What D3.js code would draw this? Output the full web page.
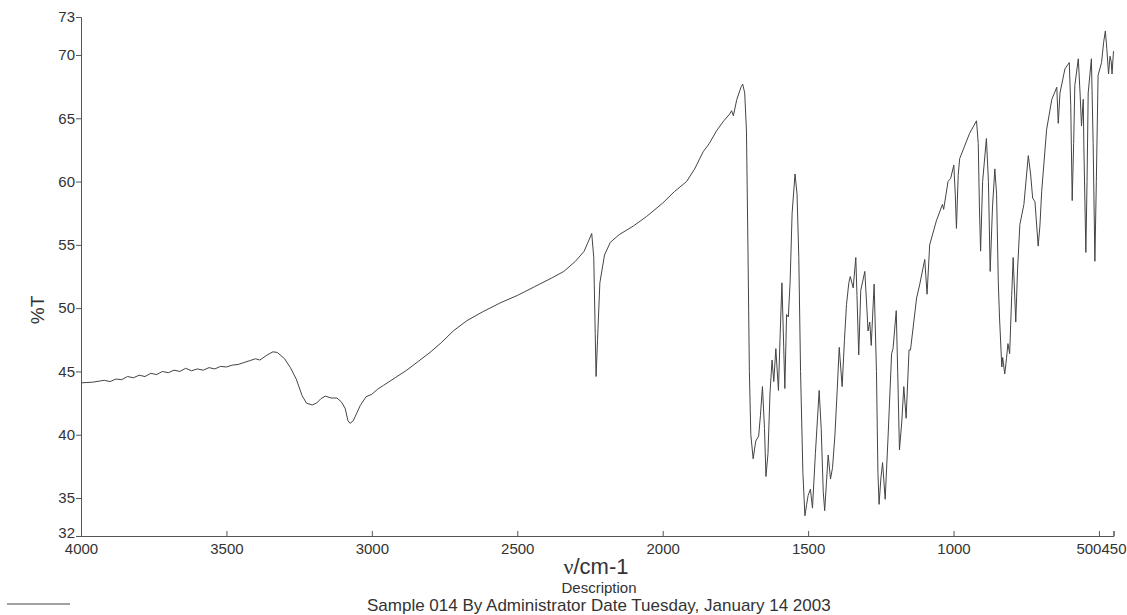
<!DOCTYPE html>
<html>
<head>
<meta charset="utf-8">
<script src="https://cdn.jsdelivr.net/npm/d3@7"></script>
<style>
  body { margin: 0; background: #fff; }
  text { font-family: "Liberation Sans", Arial, sans-serif; fill: #333; }
</style>
</head>
<body>
<div id="chart"></div>
<script>
// wavenumbers (cm-1)
var wavenumbers = [
  4000, 3960, 3920, 3900, 3880, 3860, 3840, 3820, 3800, 3780, 3760, 3740, 3720, 3700,
  3680, 3660, 3640, 3620, 3600, 3580, 3560, 3540, 3520, 3500, 3480, 3460, 3440, 3420,
  3400, 3385, 3360, 3340, 3325, 3300, 3280, 3260, 3240, 3225, 3205, 3190, 3175, 3160,
  3140, 3120, 3105, 3092, 3082, 3075, 3064, 3050, 3040, 3020, 3000, 2980, 2960, 2920,
  2880, 2840, 2800, 2760, 2720, 2674, 2620, 2560, 2500, 2440, 2380, 2340, 2300, 2270,
  2255, 2244, 2237, 2232, 2229, 2224, 2216, 2200, 2180, 2150, 2100, 2055, 2000, 1960,
  1918, 1890, 1861, 1840, 1815, 1790, 1769, 1763, 1757, 1745, 1730, 1725, 1718, 1712,
  1707, 1702, 1697, 1689, 1680, 1670, 1664, 1657, 1650, 1645, 1638, 1631, 1624, 1618,
  1611, 1602, 1596, 1590, 1584, 1580, 1574, 1568, 1562, 1555, 1545, 1538, 1532, 1526,
  1518, 1511, 1505, 1500, 1492, 1485, 1475, 1462, 1455, 1448, 1443, 1431, 1423, 1416,
  1408, 1400, 1393, 1383, 1375, 1368, 1360, 1355, 1345, 1336, 1332, 1326, 1319, 1305,
  1298, 1294, 1288, 1283, 1273, 1265, 1260, 1256, 1250, 1244, 1235, 1225, 1213, 1208,
  1197, 1192, 1186, 1178, 1171, 1163, 1153, 1148, 1127, 1116, 1099, 1091, 1082, 1059,
  1038, 1034, 1019, 1010, 999, 994, 990, 984, 979, 962, 945, 921, 915, 911,
  907, 900, 887, 880, 874, 866, 858, 852, 846, 842, 834, 831, 824, 818,
  813, 807, 800, 795, 786, 780, 772, 758, 743, 735, 728, 720, 709, 703,
  697, 680, 662, 645, 640, 634, 617, 602, 597, 592, 587, 583, 571, 565,
  560, 554, 552, 545, 541, 537, 526, 520, 514, 509, 503, 491, 484, 478,
  473, 467, 462, 458, 455, 450
];

// transmittance (%T) at each wavenumber above
var transmittance = [
  44.1, 44.15, 44.3, 44.2, 44.4, 44.35, 44.6, 44.5, 44.7, 44.6, 44.85, 44.75, 45.0, 44.9,
  45.1, 45.0, 45.25, 45.05, 45.2, 45.1, 45.3, 45.2, 45.4, 45.35, 45.5, 45.55, 45.7, 45.85,
  46.0, 45.9, 46.3, 46.55, 46.5, 46.0, 45.3, 44.4, 43.1, 42.5, 42.35, 42.5, 42.85, 43.05,
  42.9, 42.9, 42.6, 42.1, 41.1, 40.9, 41.1, 41.8, 42.3, 43.0, 43.2, 43.6, 43.9, 44.5,
  45.1, 45.8, 46.5, 47.3, 48.2, 49.0, 49.7, 50.4, 51.0, 51.7, 52.4, 52.9, 53.7, 54.5,
  55.3, 55.9, 54.0, 48.0, 44.6, 47.5, 52.0, 54.2, 55.2, 55.8, 56.5, 57.25, 58.3, 59.2,
  60.0, 61.0, 62.35, 63.0, 64.0, 64.8, 65.35, 65.6, 65.2, 66.5, 67.5, 67.7, 67.0, 64.0,
  55.0, 45.0, 40.0, 38.1, 39.5, 39.9, 41.5, 43.8, 40.5, 36.7, 38.5, 43.3, 45.9, 44.2,
  46.8, 43.5, 48.0, 52.0, 47.0, 43.65, 49.5, 49.3, 52.0, 57.5, 60.6, 59.0, 54.0, 45.0,
  37.0, 33.6, 34.5, 35.2, 35.7, 34.2, 38.5, 43.5, 40.5, 35.5, 34.0, 38.4, 36.5, 37.4,
  39.9, 43.5, 46.9, 43.8, 47.5, 50.3, 52.0, 52.5, 51.6, 54.0, 51.0, 46.3, 51.4, 52.9,
  50.0, 48.2, 48.9, 47.05, 51.9, 45.0, 37.0, 34.5, 36.5, 37.8, 34.9, 39.9, 46.4, 46.8,
  49.8, 45.0, 38.8, 41.0, 43.8, 41.3, 46.7, 46.7, 50.8, 51.9, 53.85, 51.1, 55.0, 56.9,
  58.2, 57.8, 60.0, 60.25, 61.3, 59.0, 56.3, 60.5, 61.8, 62.8, 63.8, 64.8, 63.0, 58.0,
  54.5, 60.0, 63.4, 60.0, 52.9, 58.0, 61.0, 59.0, 52.0, 49.3, 45.35, 46.1, 44.8, 46.0,
  47.2, 46.4, 51.0, 54.0, 48.9, 53.0, 56.6, 58.2, 62.05, 60.6, 58.7, 58.4, 54.9, 56.5,
  59.2, 64.1, 66.5, 67.45, 64.6, 67.0, 68.9, 69.4, 66.0, 58.5, 63.0, 67.6, 69.7, 67.0,
  64.4, 66.5, 62.9, 54.4, 60.0, 67.0, 69.7, 63.0, 53.7, 60.0, 68.4, 69.4, 71.0, 71.9,
  70.5, 68.5, 69.9, 69.5, 68.5, 70.3
];

var xTicks = [4000, 3500, 3000, 2500, 2000, 1500, 1000, 500, 450];
var yTicks = [32, 35, 40, 45, 50, 55, 60, 65, 70, 73];

var data = wavenumbers.map(function (w, i) { return {w: w, t: transmittance[i]}; });

var width = 1127, height = 615;
var margin = {top: 17, right: 13.5, bottom: 79, left: 81};

var svg = d3.select("#chart")
  .append("svg")
    .attr("width", width)
    .attr("height", height);

svg.append("rect")
  .attr("width", width)
  .attr("height", height)
  .attr("fill", "#fff");

var x = d3.scaleLinear()
  .domain([4000, 450])
  .range([margin.left, width - margin.right]);

var y = d3.scaleLinear()
  .domain([32, 73])
  .range([height - margin.bottom, margin.top]);

// x axis, ticks point up into the plot
var xAxis = svg.append("g")
  .attr("transform", "translate(0," + y(32) + ")")
  .call(d3.axisTop(x).tickValues(xTicks).tickSize(5).tickFormat(d3.format("d")));
xAxis.selectAll("text")
  .attr("y", 7)
  .attr("dy", "0.71em")
  .attr("font-size", 15);
// 500 and 450 sit side by side, as in the printout
xAxis.selectAll(".tick text")
  .filter(function (d) { return d === 500; })
  .attr("text-anchor", "end")
  .attr("x", 2);
xAxis.selectAll(".tick text")
  .filter(function (d) { return d === 450; })
  .attr("text-anchor", "start")
  .attr("x", x(500) - x(450) + 2);

// y axis
var yAxis = svg.append("g")
  .attr("transform", "translate(" + x(4000) + ",0)")
  .call(d3.axisLeft(y).tickValues(yTicks).tickSize(5).tickPadding(1));
yAxis.selectAll("text").attr("font-size", 15);
// lift "32" a little so it clears the 4000 label
yAxis.selectAll(".tick text")
  .filter(function (d) { return d === 32; })
  .attr("dy", "0.1em");

svg.selectAll(".domain").attr("stroke", "#555");
svg.selectAll(".tick line").attr("stroke", "#555");
svg.selectAll(".tick text").attr("fill", "#333").attr("font-family", "Liberation Sans, Arial, sans-serif");

// spectrum
var line = d3.line()
  .x(function (d) { return x(d.w); })
  .y(function (d) { return y(d.t); });

svg.append("path")
  .datum(data)
  .attr("d", line)
  .attr("fill", "none")
  .attr("stroke", "#444")
  .attr("stroke-width", 1);

// axis titles
svg.append("text")
  .attr("transform", "translate(44," + 310 + ") rotate(-90)")
  .attr("text-anchor", "middle")
  .attr("font-size", 19)
  .text("%T");

var xt = svg.append("text")
  .attr("x", 596)
  .attr("y", 574)
  .attr("text-anchor", "middle")
  .attr("font-size", 22);
xt.append("tspan").attr("font-family", "Liberation Serif, serif").text("ν");
xt.append("tspan").text("/cm-1");

// legend / description
svg.append("text")
  .attr("x", 599)
  .attr("y", 593)
  .attr("text-anchor", "middle")
  .attr("font-size", 15)
  .text("Description");

svg.append("line")
  .attr("x1", 7).attr("x2", 70)
  .attr("y1", 604).attr("y2", 604)
  .attr("stroke", "#444");

svg.append("text")
  .attr("x", 367)
  .attr("y", 611)
  .attr("font-size", 17)
  .text("Sample 014 By Administrator Date Tuesday, January 14 2003");
</script>
</body>
</html>
